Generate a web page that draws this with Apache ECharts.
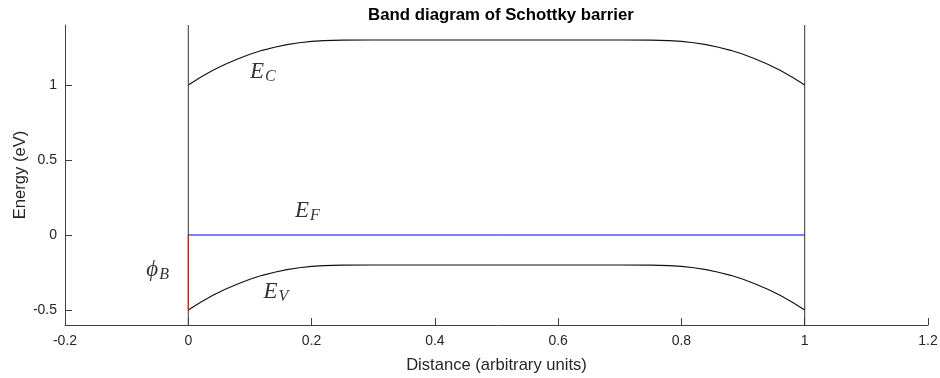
<!DOCTYPE html>
<html>
<head>
<meta charset="utf-8">
<script src="https://cdn.jsdelivr.net/npm/echarts@6/dist/echarts.min.js"></script>
<style>
  html, body { margin: 0; padding: 0; background: #fff; }
  #chart { width: 940px; height: 378px; }
</style>
</head>
<body>
<div id="chart"></div>
<script>
// Position across the junction (arbitrary units)
const distance = [0, 0.02, 0.04, 0.06, 0.08, 0.10, 0.12, 0.14, 0.16, 0.18, 0.20, 0.22, 0.25, 0.30,
  0.40, 0.50, 0.60, 0.70, 0.75, 0.78, 0.80, 0.82, 0.84, 0.86, 0.88, 0.90, 0.92, 0.94, 0.96, 0.98, 1.00];
// Conduction band edge E_C (eV)
const conductionBand = [1.000, 1.052, 1.098, 1.139, 1.174, 1.205, 1.231, 1.252, 1.269, 1.282, 1.291, 1.296, 1.299, 1.300,
  1.300, 1.300, 1.300, 1.300, 1.299, 1.296, 1.291, 1.282, 1.269, 1.252, 1.231, 1.205, 1.174, 1.139, 1.098, 1.052, 1.000];
// Valence band edge E_V (eV)
const valenceBand = [-0.500, -0.448, -0.402, -0.361, -0.326, -0.295, -0.269, -0.248, -0.231, -0.218, -0.209, -0.204, -0.201, -0.200,
  -0.200, -0.200, -0.200, -0.200, -0.201, -0.204, -0.209, -0.218, -0.231, -0.248, -0.269, -0.295, -0.326, -0.361, -0.402, -0.448, -0.500];
// Fermi level and barrier height
const fermiLevel = 0;
const barrierBottom = -0.5;
// Interfaces (metal contacts)
const interfaces = [0, 1];
// Axis ranges and ticks
const xRange = [-0.2, 1.2];
const yRange = [-0.6, 1.4];
const yTicks = [-0.5, 0, 0.5, 1];
// Band labels: [x, y, main symbol, subscript]
const bandLabels = [
  [0.10, 1.09, 'E', 'C'],
  [0.173, 0.16, 'E', 'F'],
  [0.122, -0.38, 'E', 'V'],
  [-0.068, -0.23, 'ϕ', 'B']
];

const axisColor = '#404040';
const textColor = '#262626';
const sansFont = '"Liberation Sans", Arial, sans-serif';
const mathFont = '"Liberation Serif", "Times New Roman", serif';

const chart = echarts.init(document.getElementById('chart'), null, { renderer: 'canvas' });

const series = [];
interfaces.forEach(function (x) {
  series.push({
    type: 'line', silent: true, symbol: 'none',
    data: [[x, yRange[0]], [x, yRange[1]]],
    lineStyle: { color: '#333333', width: 1 }
  });
});
series.push({
  type: 'line', name: 'Ec', symbol: 'none', smooth: false,
  data: distance.map(function (x, i) { return [x, conductionBand[i]]; }),
  lineStyle: { color: '#111111', width: 1.1 }
});
series.push({
  type: 'line', name: 'Ev', symbol: 'none', smooth: false,
  data: distance.map(function (x, i) { return [x, valenceBand[i]]; }),
  lineStyle: { color: '#111111', width: 1.1 }
});
series.push({
  type: 'line', name: 'Ef', symbol: 'none',
  data: [[interfaces[0], fermiLevel], [interfaces[1], fermiLevel]],
  lineStyle: { color: '#0000ff', width: 1 }
});
series.push({
  type: 'line', name: 'phiB', symbol: 'none',
  data: [[interfaces[0], fermiLevel], [interfaces[0], barrierBottom]],
  lineStyle: { color: '#ff0000', width: 1 }
});
series.push({
  type: 'scatter', silent: true, symbolSize: 0,
  data: bandLabels.map(function (d) { return { value: [d[0], d[1]], main: d[2], sub: d[3] }; }),
  label: {
    show: true, position: 'inside', align: 'left', verticalAlign: 'middle', offset: [0, 0],
    formatter: function (p) { return '{m|' + p.data.main + '}{s|' + p.data.sub + '}'; },
    rich: {
      m: { fontFamily: mathFont, fontStyle: 'italic', fontSize: 23, color: '#000', lineHeight: 26 },
      s: { fontFamily: mathFont, fontStyle: 'italic', fontSize: 16, color: '#000', lineHeight: 26, padding: [10, 0, 0, 1] }
    }
  }
});

chart.setOption({
  animation: false,
  backgroundColor: '#ffffff',
  title: {
    text: 'Band diagram of Schottky barrier',
    left: 496, top: 2, textAlign: 'center',
    textStyle: { fontFamily: sansFont, fontSize: 16.8, fontWeight: 'bold', color: '#000' }
  },
  grid: { left: 65, right: 12, top: 25, bottom: 53, containLabel: false, outerBoundsMode: 'none' },
  xAxis: {
    type: 'value', min: xRange[0], max: xRange[1], interval: 0.2,
    name: 'Distance (arbitrary units)', nameLocation: 'middle', nameGap: 32,
    nameMoveOverlap: false,
    nameTextStyle: { fontFamily: sansFont, fontSize: 16.6, color: textColor },
    axisLine: { onZero: false, lineStyle: { color: axisColor, width: 1 } },
    axisTick: { inside: true, length: 7, lineStyle: { color: axisColor } },
    axisLabel: { fontFamily: sansFont, fontSize: 14, color: textColor, margin: 9 },
    splitLine: { show: false }
  },
  yAxis: {
    type: 'value', min: yRange[0], max: yRange[1],
    name: 'Energy (eV)', nameLocation: 'middle', nameGap: 36,
    nameMoveOverlap: false,
    nameTextStyle: { fontFamily: sansFont, fontSize: 16.6, color: textColor },
    axisLine: { onZero: false, lineStyle: { color: axisColor, width: 1 } },
    axisTick: { inside: true, length: 7, customValues: yTicks, lineStyle: { color: axisColor } },
    axisLabel: { fontFamily: sansFont, fontSize: 14, color: textColor, margin: 8, customValues: yTicks },
    splitLine: { show: false }
  },
  series: series
});
</script>
</body>
</html>
